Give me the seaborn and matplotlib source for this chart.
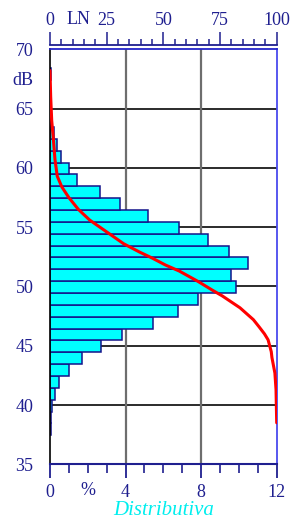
import matplotlib
matplotlib.use("Agg")
import matplotlib.pyplot as plt
import numpy as np
import pandas as pd
import seaborn as sns
from matplotlib.ticker import MultipleLocator

# histogram of levels (dB class) and percentage of time in each class
db_levels = [38, 39, 40, 41, 42, 43, 44, 45, 46, 47, 48, 49, 50, 51, 52, 53,
             54, 55, 56, 57, 58, 59, 60, 61, 62, 63, 64, 65, 66, 67, 68]
pct_time = [0.04, 0.05, 0.12, 0.27, 0.49, 1.03, 1.68, 2.70, 3.82, 5.47, 6.76,
            7.85, 9.85, 9.58, 10.50, 9.49, 8.35, 6.85, 5.18, 3.72, 2.65, 1.41,
            0.99, 0.58, 0.37, 0.22, 0.06, 0.04, 0.03, 0.02, 0.05]

# cumulative curve LN (% of time the level is exceeded)
curve_db = [68.2, 66.0, 64.0, 62.4, 60.7, 59.3, 58.4, 57.5, 56.5, 55.6, 55.0,
            54.4, 53.6, 52.9, 52.4, 51.8, 51.3, 50.4, 49.7, 49.2, 48.2, 47.2,
            46.6, 46.0, 45.5, 44.5, 44.0, 42.7, 41.3, 38.5]
curve_ln = [0.0, 0.3, 0.75, 1.5, 2.2, 3.2, 5.2, 8.3, 12.5, 17.5, 22.0, 26.5,
            32.5, 39.5, 45.0, 51.0, 57.0, 65.5, 71.5, 76.0, 83.8, 89.7, 92.2,
            94.6, 96.2, 97.6, 97.9, 99.2, 99.7, 100.0]

y_ticks = [35, 40, 45, 50, 55, 60, 65, 70]
bottom_ticks = [0, 4, 8, 12]
top_ticks = [0, 25, 50, 75, 100]

navy = "#1f1f8f"
sns.set_style("white")
plt.rcParams["font.family"] = ["Liberation Serif", "DejaVu Serif"]
plt.rcParams["font.size"] = 13

fig = plt.figure(figsize=(2.95, 5.19), dpi=100)
ax = fig.add_axes([50 / 295, 54.7 / 519, 226.7 / 295, 415 / 519])

df = pd.DataFrame({"db": np.array(db_levels) - 0.05, "pct": pct_time})
sns.barplot(data=df, x="pct", y="db", orient="y", native_scale=True,
            width=1.0, color="#00ffff", saturation=1, edgecolor="#14148a",
            linewidth=1.1, ax=ax, zorder=2)

ax.set_xlim(0, 12)
ax.set_ylim(35, 70)
ax.set_xlabel("")
ax.set_ylabel("")
ax.set_axisbelow(True)
for y in y_ticks[1:-1]:
    ax.axhline(y, color="#1a1a1a", lw=1.3, zorder=0.5)
for x in bottom_ticks[1:-1]:
    ax.axvline(x, color="#6e6e6e", lw=1.6, zorder=0.5)

ax.set_yticks(y_ticks)
ax.set_yticklabels([str(v) for v in y_ticks])
ax.tick_params(axis="y", direction="out", length=10.8, width=1.1,
               color=navy, labelcolor=navy, pad=1, labelsize=13)
ax.yaxis.get_major_ticks()[-1].tick1line.set_visible(False)

ax.set_xticks(bottom_ticks)
ax.set_xticklabels([str(v) for v in bottom_ticks])
ax.xaxis.set_minor_locator(MultipleLocator(1))
ax.tick_params(axis="x", which="major", direction="out", length=10, width=1.3,
               color=navy, labelcolor=navy, pad=4, labelsize=13)
ax.tick_params(axis="x", which="minor", direction="out", length=6.5,
               width=1.2, color=navy)

ax.spines["left"].set_color("black")
ax.spines["left"].set_linewidth(1.2)
ax.spines["bottom"].set_color(navy)
ax.spines["bottom"].set_linewidth(1.5)
ax.spines["top"].set_color("#2424c8")
ax.spines["top"].set_linewidth(1.3)
ax.spines["right"].set_color("#4a4aee")
ax.spines["right"].set_linewidth(1.3)

ax.annotate("%", xy=(2, 0), xycoords=("data", "axes fraction"),
            xytext=(0, -19), textcoords="offset points", ha="center",
            va="center", color=navy, fontsize=13)
ax.annotate("Distributiva", xy=(0.5, 0), xycoords="axes fraction",
            xytext=(0, -33.5), textcoords="offset points", ha="center",
            va="center", color="#00eeee", fontsize=15, style="italic")
ax.text(-0.119, 67.4, "dB", transform=ax.get_yaxis_transform(), ha="center",
        va="center", color=navy, fontsize=13)

# top axis: cumulative LN percentage
ax2 = ax.twiny()
sns.lineplot(x=curve_ln, y=curve_db, sort=False, estimator=None, ax=ax2,
             color="#ff0000", lw=2.2, zorder=5)
ax2.set_xlim(0, 100)
ax2.set_ylim(35, 70)
ax2.set_xticks(top_ticks)
ax2.set_xticklabels([str(v) for v in top_ticks])
ax2.xaxis.set_minor_locator(MultipleLocator(5))
ax2.tick_params(axis="x", which="major", direction="out", length=9.5,
                width=1.1, color=navy, labelcolor=navy, pad=2, labelsize=13)
ax2.tick_params(axis="x", which="minor", direction="out", length=4.2,
                width=1.1, color=navy)
for side in ["left", "right", "bottom"]:
    ax2.spines[side].set_visible(False)
ax2.spines["top"].set_position(("outward", 3.1))
ax2.spines["top"].set_color(navy)
ax2.spines["top"].set_linewidth(1.3)
ax2.set_xlabel("")
ax2.set_ylabel("")
ax2.annotate("LN", xy=(12.5, 1), xycoords=("data", "axes fraction"),
             xytext=(0, 15.5), textcoords="offset points", ha="center",
             va="bottom", color=navy, fontsize=13)

fig.savefig("out.png", dpi=100)
